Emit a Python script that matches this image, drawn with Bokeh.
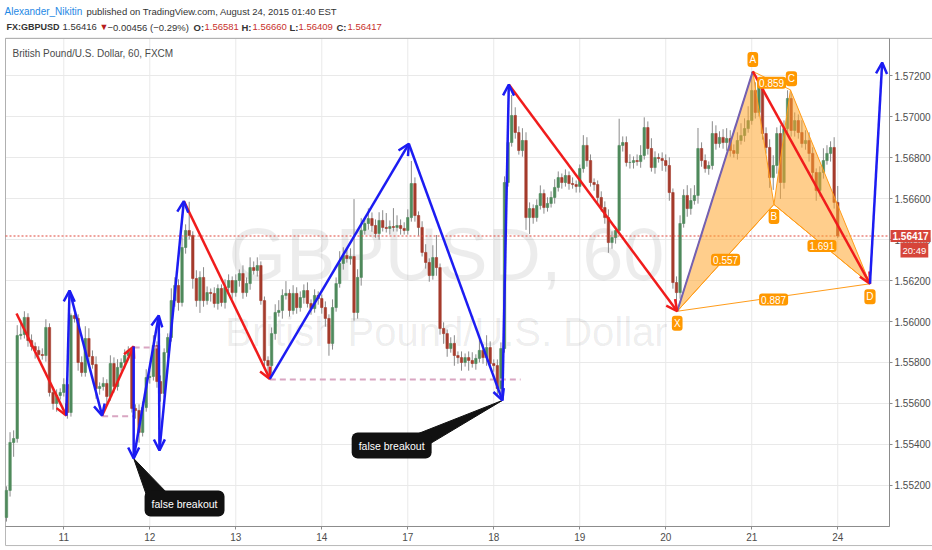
from bokeh.plotting import figure
from bokeh.models import (ColumnDataSource, Label, Arrow, OpenHead, FixedTicker, Range1d,
                          NumeralTickFormatter, LinearAxis)
from bokeh.core.properties import value
from bokeh.embed import file_html
from bokeh.resources import INLINE

# ---------------- data (GBPUSD, 60 min, FXCM) ----------------
first_open = 1.55044
c10 = [1.55176, 1.55410, 1.55429, 1.55932, 1.55937, 1.56020, 1.55907, 1.55878, 1.55859, 1.55839, 1.55834, 1.55971, 1.55654, 1.55600, 1.55639, 1.55654]
u10 = [2, 5, 4, 5, 7, 3, 2, 3, 2, 2, 3, 4, 2, 2, 3, 2]
l10 = [2, 3, 7, 2, 2, 2, 3, 2, 4, 3, 2, 3, 2, 3, 4, 2]
c11 = [1.55693, 1.55556, 1.56029, 1.56015, 1.55800, 1.55751, 1.55917, 1.55829, 1.55790, 1.55673, 1.55683, 1.55698, 1.55634, 1.55795, 1.55683, 1.55776, 1.55800, 1.55834, 1.55859, 1.55576, 1.55566, 1.55459, 1.55580, 1.55727]
u11 = [3, 2, 1, 4, 2, 3, 6, 5, 3, 4, 2, 3, 2, 4, 3, 4, 2, 3, 2, 1, 2, 3, 3, 4]
l11 = [2, 3, 2, 2, 4, 2, 2, 3, 2, 5, 3, 2, 4, 2, 3, 2, 2, 3, 2, 2, 4, 5, 2, 2]
c12 = [1.55732, 1.55883, 1.55707, 1.55649, 1.55849, 1.55922, 1.56102, 1.56176, 1.56093, 1.56361, 1.56444, 1.56420, 1.56210, 1.56102, 1.56215, 1.56102, 1.56141, 1.56137, 1.56088, 1.56161, 1.56093, 1.56166, 1.56200, 1.56141]
u12 = [3, 5, 2, 3, 2, 2, 6, 4, 3, 5, 3, 14, 2, 4, 3, 5, 3, 2, 3, 2, 2, 4, 3, 2]
l12 = [3, 2, 3, 4, 2, 3, 2, 3, 4, 2, 3, 2, 5, 3, 6, 3, 2, 4, 2, 3, 2, 3, 2, 3]
c13 = [1.56200, 1.56234, 1.56141, 1.56185, 1.56263, 1.56249, 1.56273, 1.56102, 1.55810, 1.55785, 1.55941, 1.56044, 1.56054, 1.56127, 1.56137, 1.56054, 1.56137, 1.56068, 1.56117, 1.56151, 1.56088, 1.56063, 1.56127, 1.56112]
u13 = [3, 2, 4, 3, 5, 3, 4, 2, 2, 2, 3, 4, 5, 3, 6, 2, 4, 3, 3, 3, 4, 2, 3, 2]
l13 = [2, 3, 3, 2, 3, 2, 3, 2, 3, 6, 4, 3, 2, 4, 2, 3, 2, 3, 2, 3, 2, 3, 2, 3]
c14 = [1.56068, 1.56015, 1.55893, 1.56068, 1.56185, 1.56283, 1.56322, 1.56307, 1.56317, 1.56044, 1.56215, 1.56444, 1.56478, 1.56502, 1.56468, 1.56429, 1.56493, 1.56459, 1.56454, 1.56463, 1.56459, 1.56468, 1.56454, 1.56444]
u14 = [2, 3, 2, 4, 3, 6, 4, 3, 4, 28, 4, 6, 3, 5, 3, 3, 4, 5, 7, 3, 9, 5, 3, 3]
l14 = [3, 4, 6, 3, 2, 2, 3, 2, 3, 4, 3, 4, 2, 3, 3, 2, 3, 2, 2, 3, 2, 2, 3, 2]
c17 = [1.56507, 1.56673, 1.56517, 1.56459, 1.56337, 1.56288, 1.56224, 1.56312, 1.56263, 1.55966, 1.55941, 1.55868, 1.55893, 1.55834, 1.55824, 1.55800, 1.55824, 1.55810, 1.55795, 1.55820, 1.55859, 1.55824, 1.55873, 1.55795]
u17 = [4, 11, 3, 2, 3, 4, 2, 6, 11, 2, 3, 2, 3, 4, 2, 3, 2, 3, 4, 2, 5, 3, 6, 3]
l17 = [2, 2, 3, 4, 2, 3, 3, 2, 4, 3, 5, 4, 2, 5, 3, 4, 2, 5, 2, 3, 2, 3, 4, 2]
c18 = [1.55785, 1.55673, 1.55868, 1.56678, 1.56873, 1.57005, 1.56922, 1.56834, 1.56883, 1.56507, 1.56551, 1.56507, 1.56566, 1.56624, 1.56556, 1.56576, 1.56605, 1.56654, 1.56702, 1.56678, 1.56712, 1.56673, 1.56668, 1.56659]
u18 = [2, 3, 3, 3, 4, 10, 4, 3, 6, 4, 3, 2, 3, 4, 2, 3, 3, 4, 3, 2, 3, 2, 3, 2]
l18 = [3, 4, 4, 2, 2, 2, 3, 2, 3, 6, 8, 3, 2, 2, 3, 2, 2, 3, 2, 3, 2, 3, 2, 3]
c19 = [1.56746, 1.56859, 1.56785, 1.56678, 1.56668, 1.56605, 1.56556, 1.56507, 1.56385, 1.56410, 1.56444, 1.56859, 1.56873, 1.56776, 1.56776, 1.56785, 1.56780, 1.56810, 1.56946, 1.56844, 1.56751, 1.56800, 1.56795, 1.56785]
u19 = [2, 5, 4, 3, 2, 2, 3, 3, 4, 3, 2, 13, 3, 3, 4, 2, 3, 5, 5, 3, 5, 3, 2, 3]
l19 = [3, 2, 3, 2, 3, 3, 2, 3, 5, 3, 3, 2, 3, 2, 3, 3, 2, 3, 2, 3, 2, 3, 2, 5]
c20 = [1.56761, 1.56629, 1.56190, 1.56141, 1.56478, 1.56615, 1.56551, 1.56590, 1.56615, 1.56844, 1.56785, 1.56746, 1.56761, 1.56917, 1.56868, 1.56898, 1.56873, 1.56893, 1.56834, 1.56820, 1.56883, 1.56907, 1.56941, 1.56980]
u20 = [3, 4, 2, 3, 4, 3, 5, 6, 5, 10, 3, 3, 2, 6, 4, 3, 4, 5, 4, 3, 4, 6, 5, 7]
l20 = [3, 4, 3, 8, 3, 2, 4, 3, 2, 4, 3, 2, 3, 2, 3, 2, 3, 4, 3, 2, 3, 2, 3, 2]
c21 = [1.57127, 1.57020, 1.57161, 1.56917, 1.56849, 1.56702, 1.56761, 1.56917, 1.56678, 1.56941, 1.57088, 1.56932, 1.56980, 1.56922, 1.56868, 1.56883, 1.56820, 1.56727, 1.56639, 1.56727, 1.56785, 1.56820, 1.56849, 1.56581]
u21 = [9, 4, 2, 3, 3, 4, 5, 3, 4, 4, 4, 3, 4, 3, 6, 5, 4, 3, 2, 3, 6, 4, 3, 5]
l21 = [2, 3, 2, 3, 3, 5, 6, 4, 8, 3, 3, 3, 3, 3, 2, 3, 4, 3, 5, 3, 3, 2, 4, 3]
c24 = [1.56417]
u24 = [8]
l24 = [1]

first_hour = -16                      # hours relative to Aug 11 00:00
day_ticks = [0, 24, 48, 72, 96, 120, 144, 168, 192, 216]
day_labels = ["11", "12", "13", "14", "17", "18", "19", "20", "21", "24"]
price_ticks = [1.552, 1.554, 1.556, 1.558, 1.560, 1.562, 1.564, 1.566, 1.568, 1.570, 1.572]
last_price = 1.56417

# drawings (hour, price)
red_x0 = [-13.2, 10.7, 33.5, 124.2, 192.3]
red_y0 = [1.56039, 1.55541, 1.56587, 1.57156, 1.57220]
red_x1 = [0.7, 19.5, 57.5, 171.2, 225.0]
red_y1 = [1.55541, 1.55878, 1.55720, 1.56050, 1.56184]
blue_x0 = [0.7, 1.6, 19.5, 19.5, 26.5, 26.7, 57.5, 96.3, 122.4, 225.0]
blue_y0 = [1.55541, 1.56151, 1.55878, 1.55332, 1.56029, 1.55371, 1.55720, 1.56867, 1.55615, 1.56184]
blue_x1 = [1.6, 10.7, 19.5, 26.5, 26.7, 33.5, 96.3, 122.4, 124.2, 228.4]
blue_y1 = [1.56151, 1.55541, 1.55332, 1.56029, 1.55371, 1.56587, 1.56867, 1.55615, 1.57156, 1.57263]
lvl_x0 = [10.7, 19.5, 57.5]
lvl_x1 = [19.5, 26.1, 127.5]
lvl_y = [1.55538, 1.55873, 1.55717]

pat_names = ["X", "A", "B", "C", "D"]
pat_x = [171.2, 192.3, 198.2, 202.8, 225.0]
pat_y = [1.56050, 1.57220, 1.56571, 1.57130, 1.56184]
ratio_pairs = [("X", "B"), ("A", "C"), ("B", "D"), ("X", "D")]
ratio_text = ["0.557", "0.859", "1.691", "0.887"]

callout_text = "false breakout"
callout_x = [33.7, 91.5]
callout_y = [1.55112, 1.55395]
ptr_x = [[19.5, 23.1, 28.4], [122.4, 95.4, 100.9]]
ptr_y = [[1.55332, 1.55151, 1.55171], [1.55615, 1.55429, 1.55390]]

wm_x = 106.8
wm_y = [1.56327, 1.55951]
wm_text = ["GBPUSD, 60", "British Pound/U.S. Dollar"]

# chart extents (hours / price)
PX0, PX1 = -16.27, 230.45          # plotting pane
PY0, PY1 = 1.5500, 1.57381
XR0, XR1 = -17.667, 242.45         # whole canvas
YR0, YR1 = 1.548829, 1.575659
BOX_BOTTOM = 1.54907

# ---------------- build candles ----------------
closes = c10 + c11 + c12 + c13 + c14 + c17 + c18 + c19 + c20 + c21 + c24
upw = u10 + u11 + u12 + u13 + u14 + u17 + u18 + u19 + u20 + u21 + u24
loww = l10 + l11 + l12 + l13 + l14 + l17 + l18 + l19 + l20 + l21 + l24
n = len(closes)
hours = list(range(first_hour, first_hour + n))
opens = [first_open] + closes[:-1]
PIP = 0.0001
GREEN = "#4f8a5c"
DOWN = "#a53b2c"
tops = [max(o, c) for o, c in zip(opens, closes)]
bots = [min(o, c) for o, c in zip(opens, closes)]
highs = [t + u * PIP for t, u in zip(tops, upw)]
lows = [b - l * PIP for b, l in zip(bots, loww)]
cols = [GREEN if c >= o else DOWN for o, c in zip(opens, closes)]
src = ColumnDataSource(dict(x=hours, top=tops, bottom=bots, hi=highs, lo=lows, color=cols))

FONT = "Liberation Sans"

p = figure(width=932, height=550, x_range=Range1d(XR0, XR1), y_range=Range1d(YR0, YR1),
           x_axis_location=None, y_axis_location=None,
           output_backend="svg", toolbar_location=None, min_border=0,
           background_fill_color="white", border_fill_color="white",
           outline_line_color=None)
p.xgrid.visible = False
p.ygrid.visible = False

# grid
GRID = "#e9e9e9"
p.segment(x0=day_ticks, y0=[PY0] * len(day_ticks), x1=day_ticks, y1=[PY1] * len(day_ticks),
          line_color=GRID, line_width=1)
p.segment(x0=[PX0] * len(price_ticks), y0=price_ticks, x1=[PX1] * len(price_ticks),
          y1=price_ticks, line_color=GRID, line_width=1)

# outer box and pane border
p.quad(left=[PX0], right=[XR1 + 1], bottom=[BOX_BOTTOM], top=[PY1], fill_color=None,
       line_color="#b8b8b8", line_width=1)
p.quad(left=[PX0], right=[PX1], bottom=[PY0], top=[PY1], fill_color=None,
       line_color="#b0b0b0", line_width=1)

# axes (library axes, pinned to the pane edges)
xaxis = LinearAxis(ticker=FixedTicker(ticks=day_ticks), fixed_location=PY0,
                   bounds=(PX0, PX1),
                   major_label_overrides={t: lab for t, lab in zip(day_ticks, day_labels)})
yaxis = LinearAxis(ticker=FixedTicker(ticks=price_ticks), fixed_location=PX1,
                   bounds=(PY0, PY1), formatter=NumeralTickFormatter(format="0.00000"))
for ax in (xaxis, yaxis):
    ax.axis_line_color = "#8c8c8c"
    ax.major_tick_line_color = "#8c8c8c"
    ax.major_tick_out = 3
    ax.major_tick_in = 0
    ax.minor_tick_line_color = None
    ax.major_label_text_font = FONT
    ax.major_label_text_font_size = "10px"
    ax.major_label_text_color = "#4d4d4d"
    ax.major_label_standoff = 2
xaxis.major_label_standoff = 4
p.add_layout(xaxis, "below")
p.add_layout(yaxis, "right")

# watermark
p.text(x=[wm_x], y=[wm_y[0]], text=[wm_text[0]], text_font=value(FONT), text_font_size="74px",
       text_color="#000000", text_alpha=0.075, text_align="center", text_baseline="middle")
p.text(x=[wm_x], y=[wm_y[1]], text=[wm_text[1]], text_font=value(FONT), text_font_size="40px",
       text_color="#000000", text_alpha=0.075, text_align="center", text_baseline="middle")

# candles
p.segment(x0="x", y0="hi", x1="x", y1="lo", source=src, line_color="#8a8a8a", line_width=1)
p.vbar(x="x", width=0.68, top="top", bottom="bottom", source=src, fill_color="color",
       line_color="color", line_width=0.6)

# current price line
p.segment(x0=[PX0], y0=[last_price], x1=[PX1], y1=[last_price], line_color="#e0463a",
          line_dash="2 2", line_width=1.2)

# support / resistance dashes
p.segment(x0=lvl_x0, y0=lvl_y, x1=lvl_x1, y1=lvl_y, line_color="#d9a6c2", line_width=2,
          line_dash="6 4")

# harmonic pattern
P = {k: (x, y) for k, x, y in zip(pat_names, pat_x, pat_y)}
p.patches(xs=[[P["X"][0], P["A"][0], P["B"][0]], [P["B"][0], P["C"][0], P["D"][0]]],
          ys=[[P["X"][1], P["A"][1], P["B"][1]], [P["B"][1], P["C"][1], P["D"][1]]],
          fill_color="#ffa52e", fill_alpha=0.55, line_color="#ff9c1a", line_width=1)
for a, b in ratio_pairs:
    p.line([P[a][0], P[b][0]], [P[a][1], P[b][1]], line_color="#ff9c1a", line_width=1)
p.line([P["X"][0], P["A"][0]], [P["X"][1], P["A"][1]], line_color="#7360b3", line_width=2)

# callout pointers
p.patches(xs=ptr_x, ys=ptr_y, fill_color="#111111", line_color="#111111")

# arrows
RED = "#f01c1c"
BLUE = "#1c1cf2"
rsrc = ColumnDataSource(dict(x0=red_x0, y0=red_y0, x1=red_x1, y1=red_y1))
bsrc = ColumnDataSource(dict(x0=blue_x0, y0=blue_y0, x1=blue_x1, y1=blue_y1))
p.add_layout(Arrow(end=OpenHead(size=11, line_color=RED, line_width=2.5), x_start="x0",
                   y_start="y0", x_end="x1", y_end="y1", source=rsrc, line_color=RED,
                   line_width=2.5))
p.add_layout(Arrow(end=OpenHead(size=11, line_color=BLUE, line_width=2.5), x_start="x0",
                   y_start="y0", x_end="x1", y_end="y1", source=bsrc, line_color=BLUE,
                   line_width=2.5))

# pattern labels
ORANGE = "#ff9800"
offs = {"X": (0, -12), "A": (0, 12), "B": (0, -12), "C": (1, 11), "D": (0, -13)}
for k in pat_names:
    dx, dy = offs[k]
    p.add_layout(Label(x=P[k][0], y=P[k][1], x_offset=dx, y_offset=dy, text=k,
                       text_font=FONT, text_font_size="10px", text_color="white",
                       text_align="center", text_baseline="middle",
                       background_fill_color=ORANGE, padding=2, border_radius=3))
for (a, b), t in zip(ratio_pairs, ratio_text):
    mx = (P[a][0] + P[b][0]) / 2
    my = (P[a][1] + P[b][1]) / 2
    p.add_layout(Label(x=mx, y=my, y_offset=-2, text=t, text_font=FONT, text_font_size="10px",
                       text_color="white", text_align="center", text_baseline="middle",
                       background_fill_color=ORANGE, padding=2, border_radius=3))

# callouts
for cx, cy in zip(callout_x, callout_y):
    p.add_layout(Label(x=cx, y=cy, text=callout_text, text_font=FONT, text_font_size="10.5px",
                       text_color="white", text_align="center", text_baseline="middle",
                       background_fill_color="#111111", padding=7, border_radius=6))

# price axis marker
p.add_layout(Label(x=PX1, y=last_price, x_offset=1, text="1.56417", text_font=FONT,
                   text_font_size="10px", text_font_style="bold", text_color="white",
                   text_align="left", text_baseline="middle", background_fill_color="#d6453a",
                   padding=2))
p.add_layout(Label(x=PX1, y=last_price, x_offset=11, y_offset=-14, text="20:49",
                   text_font=FONT, text_font_size="9.5px", text_color="white",
                   text_align="left", text_baseline="middle", background_fill_color="#d6453a",
                   padding=2))

# header texts
def hdr(text, off, dy, color="#333333", style="normal", size="9.5px"):
    p.add_layout(Label(x=XR0, y=YR1, x_offset=off, y_offset=dy, text=text, text_font=FONT,
                       text_font_size=size, text_color=color, text_font_style=style,
                       text_align="left", text_baseline="middle"))

L1, L2 = -10.5, -26.7
hdr("Alexander_Nikitin", 4, L1, color="#1e88e5", size="10px")
hdr("published on TradingView.com, August 24, 2015 01:40 EST", 86, L1)
VAL = "#c8312b"
hdr("FX:GBPUSD", 6, L2, style="bold", size="9px")
hdr("1.56416", 62, L2)
hdr("\u25bc", 99, L2, color="#b71c1c", size="9px")
hdr("\u22120.00456 (\u22120.29%)", 107, L2)
hdr("O:", 193, L2, style="bold")
hdr("1.56581", 204, L2, color=VAL)
hdr("H:", 241, L2, style="bold")
hdr("1.56660", 252, L2, color=VAL)
hdr("L:", 289, L2, style="bold")
hdr("1.56409", 298, L2, color=VAL)
hdr("C:", 336, L2, style="bold")
hdr("1.56417", 347, L2, color=VAL)
hdr("British Pound/U.S. Dollar, 60, FXCM", 12, -52.5, color="#4a4a4a", size="10px")

open("out.html", "w").write(file_html(p, INLINE))
